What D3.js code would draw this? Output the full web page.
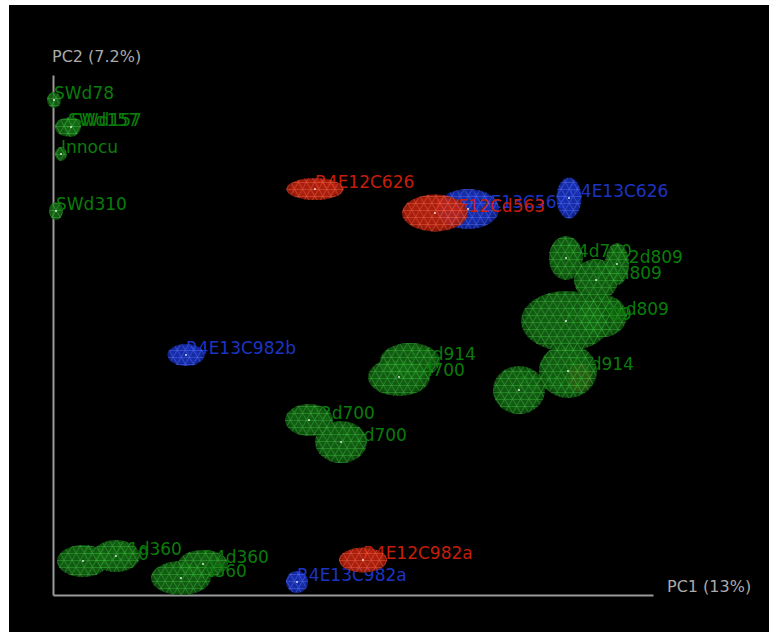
<!DOCTYPE html>
<html>
<head>
<meta charset="utf-8">
<script src="https://cdn.jsdelivr.net/npm/d3@7"></script>
<style>
  body { margin: 0; background: #fff; }
  text { font-family: "DejaVu Sans", Verdana, sans-serif; }
</style>
</head>
<body>
<div id="plot"></div>
<script>
const WIDTH = 769;
const HEIGHT = 632;

// sample names, drawn back to front
const sampleNames = [
  'SWd78', 'SWd157', 'SWd157', 'Innocu', 'SWd310',
  'R4E12C626', 'R4E13C563', 'R4E12Cd563', 'R4E13C626',
  'R4d700', 'R3d809', 'R2d809', 'R1d809', 'R4d809',
  '', 'R2d914', 'R1d914',
  'R4E13C982b', 'R4d914', 'R3d700', 'R2d700', 'R1d700',
  'R2d360', 'R1d360', 'R4d360', 'R3d360',
  'R4E13C982a', 'R4E12C982a'
];
const sampleGroup = [
  'soil', 'soil', 'soil', 'soil', 'soil',
  'E12', 'E13', 'E12', 'E13',
  'soil', 'soil', 'soil', 'soil', 'soil',
  'E12', 'soil', 'soil',
  'E13', 'soil', 'soil', 'soil', 'soil',
  'soil', 'soil', 'soil', 'soil',
  'E13', 'E12'
];
const pc1 = [
  -0.299, -0.285, -0.282, -0.292, -0.297,
  -0.038, 0.115, 0.082, 0.216,
  0.213, 0.243, 0.264, 0.250, 0.213,
  0.227, 0.166, 0.215,
  -0.167, 0.057, 0.046, -0.044, -0.012,
  -0.270, -0.237, -0.150, -0.172,
  -0.056, 0.010
];
const pc2 = [
  0.235, 0.208, 0.208, 0.181, 0.124,
  0.146, 0.126, 0.122, 0.137,
  0.077, 0.055, 0.071, 0.019, 0.014,
  -0.043, -0.055, -0.036,
  -0.020, -0.026, -0.042, -0.085, -0.107,
  -0.226, -0.221, -0.229, -0.243,
  -0.247, -0.225
];
// ellipsoid half-widths along PC1 and PC2
const spread1 = [
  0.007, 0.013, 0.009, 0.006, 0.007,
  0.0285, 0.031, 0.033, 0.0125,
  0.017, 0.022, 0.012, 0.024, 0.045,
  0.012, 0.026, 0.029,
  0.0185, 0.030, 0.031, 0.024, 0.026,
  0.026, 0.024, 0.025, 0.030,
  0.011, 0.024
];
const spread2 = [
  0.008, 0.0095, 0.010, 0.007, 0.009,
  0.011, 0.020, 0.0185, 0.0205,
  0.022, 0.021, 0.021, 0.021, 0.030,
  0.014, 0.024, 0.027,
  0.011, 0.018, 0.019, 0.016, 0.021,
  0.016, 0.016, 0.014, 0.017,
  0.011, 0.0125
];

const PC1_LABEL = 'PC1 (13%)';
const PC2_LABEL = 'PC2 (7.2%)';

const COLORS = {
  soil: { fill: '#156815', edge: '#0a420a', mesh: '#3cb83c', text: '#0a7c0a' },
  E12:  { fill: '#c02410', edge: '#7e1406', mesh: '#ff6040', text: '#c41e0a' },
  E13:  { fill: '#1a32c0', edge: '#0c1c80', mesh: '#5070ff', text: '#1c34c4' }
};

document.addEventListener('DOMContentLoaded', function() {
  drawPlot();
});

function drawPlot()
{
  var svg = d3.select('#plot').append('svg')
    .attr('width', WIDTH)
    .attr('height', HEIGHT);

  svg.append('rect')
    .attr('x', 9).attr('y', 5)
    .attr('width', WIDTH - 9).attr('height', HEIGHT - 5)
    .attr('fill', '#000');

  var x = d3.scaleLinear().domain([-0.3, 0.3]).range([53, 653]);
  var y = d3.scaleLinear().domain([-0.26, 0.26]).range([595, 75]);

  makeDefs(svg);

  // axes: only the domain lines
  svg.append('g')
    .attr('transform', 'translate(0,' + y(-0.26) + ')')
    .call(d3.axisBottom(x).tickValues([]).tickSizeOuter(0))
    .select('.domain')
    .attr('stroke', '#9a9a9a')
    .attr('stroke-width', 2);

  svg.append('g')
    .attr('transform', 'translate(' + x(-0.3) + ',0)')
    .call(d3.axisLeft(y).tickValues([]).tickSizeOuter(0))
    .select('.domain')
    .attr('stroke', '#9a9a9a')
    .attr('stroke-width', 2);

  svg.append('text')
    .attr('x', x(0.3) + 14).attr('y', y(-0.26) - 3)
    .attr('fill', '#aaa').style('font-size', '16px')
    .text(PC1_LABEL);

  svg.append('text')
    .attr('x', x(-0.3) - 1).attr('y', y(0.26) - 13)
    .attr('fill', '#aaa').style('font-size', '16px')
    .text(PC2_LABEL);

  var data = samples2Data();
  var layer = svg.append('g');

  data.forEach(function(d) {
    var c = COLORS[d.group];
    var cx = x(d.pc1), cy = y(d.pc2);
    var rx = x(d.pc1 + d.s1) - cx, ry = cy - y(d.pc2 + d.s2);

    if (d.name != '') {
      layer.append('text')
        .attr('x', cx).attr('y', cy - 1)
        .attr('fill', c.text)
        .style('font-size', '17px')
        .text(d.name);
    }

    var g = layer.append('g').attr('opacity', 0.88);
    g.append('ellipse')
      .attr('cx', cx).attr('cy', cy).attr('rx', rx).attr('ry', ry)
      .attr('fill', 'url(#grad-' + d.group + ')');
    [0, 60, 120].forEach(function(a) {
      g.append('ellipse')
        .attr('cx', cx).attr('cy', cy).attr('rx', rx).attr('ry', ry)
        .attr('fill', 'url(#mesh-' + d.group + '-' + a + ')');
    });
    layer.append('circle')
      .attr('cx', cx).attr('cy', cy).attr('r', 1)
      .attr('fill', '#fff').attr('opacity', 0.85);
  });
}

function makeDefs(svg)
{
  var defs = svg.append('defs');
  for (var key in COLORS) {
    var c = COLORS[key];
    var grad = defs.append('radialGradient')
      .attr('id', 'grad-' + key)
      .attr('cx', '50%').attr('cy', '50%').attr('r', '55%')
      .attr('fx', '45%').attr('fy', '42%');
    grad.append('stop').attr('offset', '0%').attr('stop-color', c.fill);
    grad.append('stop').attr('offset', '70%').attr('stop-color', c.fill);
    grad.append('stop').attr('offset', '100%').attr('stop-color', c.edge);

    [0, 60, 120].forEach(function(a) {
      var p = defs.append('pattern')
        .attr('id', 'mesh-' + key + '-' + a)
        .attr('patternUnits', 'userSpaceOnUse')
        .attr('width', 8).attr('height', 7)
        .attr('patternTransform', 'rotate(' + a + ')');
      p.append('line')
        .attr('x1', 0).attr('y1', 0.5).attr('x2', 8).attr('y2', 0.5)
        .attr('stroke', c.mesh)
        .attr('stroke-width', 0.8)
        .attr('stroke-opacity', 0.7);
    });
  }
}

function samples2Data()
{
  var results = [];
  for (var i = 0; i < sampleNames.length; i++) {
    results.push({
      name: sampleNames[i],
      group: sampleGroup[i],
      pc1: pc1[i],
      pc2: pc2[i],
      s1: spread1[i],
      s2: spread2[i]
    });
  }
  return results;
}
</script>
</body>
</html>
